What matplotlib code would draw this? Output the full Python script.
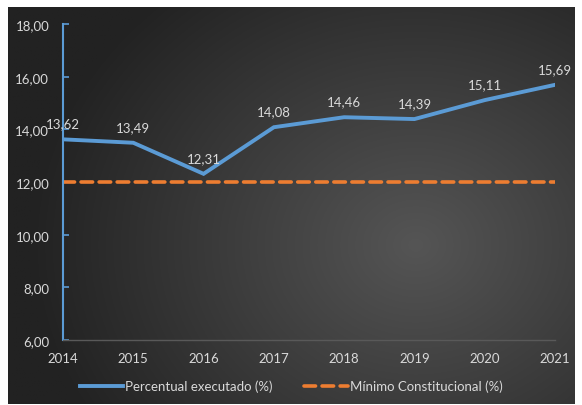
import matplotlib
matplotlib.use("Agg")
import matplotlib.pyplot as plt
import numpy as np

years = [2014, 2015, 2016, 2017, 2018, 2019, 2020, 2021]
executado = [13.62, 13.49, 12.31, 14.08, 14.46, 14.39, 15.11, 15.69]
minimo = [12, 12, 12, 12, 12, 12, 12, 12]
yticks = [6, 8, 10, 12, 14, 16, 18]

W, H = 582, 406
fig = plt.figure(figsize=(W / 100, H / 100), dpi=100)
fig.patch.set_facecolor("white")

# background panel with radial gradient
bx0, bx1, by0, by1 = 8, 575, 8, 405
bg = fig.add_axes([bx0 / W, 1 - by1 / H, (bx1 - bx0) / W, (by1 - by0) / H])
bg.set_axis_off()
nx, ny = 400, 300
xx, yy = np.meshgrid(np.linspace(0, 1, nx), np.linspace(0, 1, ny))
cx, cy = 0.72, 0.6
r = np.sqrt(((xx - cx) * 1.1) ** 2 + ((yy - cy) * 0.9) ** 2)
r = np.clip(r / 0.75, 0, 1)
inner, outer = 0x55, 0x22
v = (inner + (outer - inner) * r) / 255.0
img = np.dstack([v, v, v])
bg.imshow(img, aspect="auto", extent=[0, 1, 0, 1], origin="upper")

font = "Lato"
tc = "#d9d9d9"
fs = 9.5

ax = fig.add_axes([63 / W, 1 - 341 / H, (555 - 63) / W, (341 - 25) / H])
ax.patch.set_alpha(0)
ax.plot(years, executado, color="#5b9bd5", lw=2.8, solid_joinstyle="miter",
        label="Percentual executado (%)", zorder=3)
ax.plot(years, minimo, color="#ed7d31", lw=2.6, dashes=(3.2, 1.8),
        dash_capstyle="round", label="Mínimo Constitucional (%)", zorder=2)
for x, y in zip(years, executado):
    ax.annotate(f"{y:.2f}".replace(".", ","), (x, y), xytext=(0, 7),
                textcoords="offset points", ha="center", va="bottom",
                color=tc, fontsize=fs, family=font)

ax.set_xlim(2014, 2021)
ax.set_ylim(6, 18)
ax.set_yticks(yticks)
ax.set_yticklabels([f"{t:.2f}".replace(".", ",") for t in yticks],
                   color=tc, fontsize=fs, family=font)
ax.set_xticks(years)
ax.set_xticklabels([str(y) for y in years], color=tc, fontsize=fs, family=font)
ax.tick_params(axis="y", direction="in", length=4, color="#5b9bd5", width=1.2, pad=10)
ax.tick_params(axis="x", length=0, pad=9)
for s in ["top", "right"]:
    ax.spines[s].set_visible(False)
ax.spines["left"].set_color("#5b9bd5")
ax.spines["left"].set_linewidth(1.5)
ax.spines["bottom"].set_color("#595959")
ax.spines["bottom"].set_linewidth(1)

leg = fig.legend(loc="center", bbox_to_anchor=(0.5, 1 - 387 / H), ncol=2,
                 frameon=False, handlelength=3.3, columnspacing=2.4,
                 handletextpad=0.15, prop={"family": font, "size": fs})
for t in leg.get_texts():
    t.set_color(tc)

fig.savefig("out.png", dpi=100, facecolor="white")
